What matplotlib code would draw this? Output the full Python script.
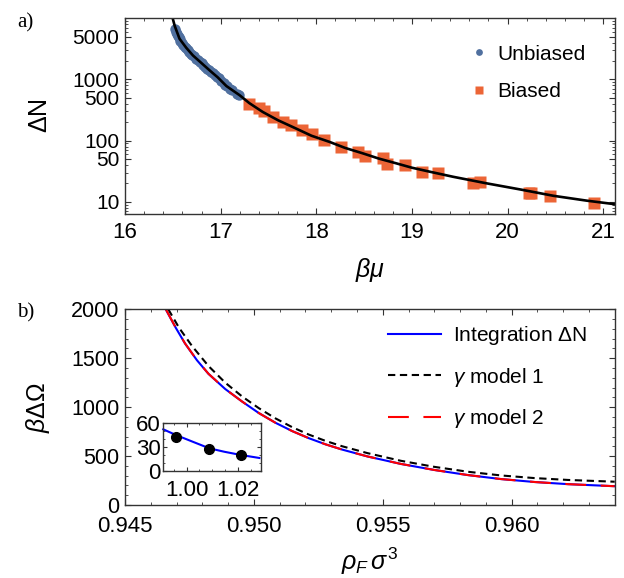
import numpy as np
import matplotlib
matplotlib.use("Agg")
import matplotlib.pyplot as plt
from matplotlib.ticker import FixedLocator, MultipleLocator, LogLocator, NullFormatter

plt.rcParams['font.family'] = ['Liberation Sans', 'DejaVu Sans']
plt.rcParams['mathtext.fontset'] = 'custom'
plt.rcParams['mathtext.rm'] = 'Liberation Sans'
plt.rcParams['mathtext.it'] = 'Liberation Sans:italic'

# panel a: grand-canonical data
unbiased_mu = [16.52, 16.53, 16.54, 16.55, 16.56, 16.57, 16.58, 16.60, 16.61, 16.63,
               16.64, 16.66, 16.67, 16.69, 16.70, 16.72, 16.74, 16.76, 16.78, 16.80,
               16.82, 16.84, 16.86, 16.88, 16.90, 16.92, 16.94, 16.96, 16.98, 17.00,
               17.03, 17.05, 17.07, 17.10, 17.12, 17.17, 17.19]
unbiased_dN = [6600, 6000, 5600, 5200, 4900, 4600, 4300, 3950, 3700, 3450,
               3250, 3000, 2850, 2650, 2550, 2400, 2200, 2050, 1950, 1850,
               1700, 1600, 1500, 1420, 1330, 1260, 1180, 1100, 1050, 960,
               870, 820, 790, 700, 660, 570, 550]
biased_mu = [17.30, 17.40, 17.45, 17.55, 17.65, 17.74, 17.85, 17.95, 18.08, 18.26,
             18.44, 18.51, 18.70, 18.74, 18.93, 19.11, 19.27, 19.64, 19.71, 20.22,
             20.25, 20.44, 20.90]
biased_dN = [393, 347, 300, 240, 198, 178, 150, 128, 102, 79,
             65, 57, 51, 42, 40, 31, 30, 20.5, 21, 14,
             14, 12.4, 9.6]
fit_mu = [16.50, 16.52, 16.57, 16.64, 16.71, 16.80, 16.885, 16.97, 17.06, 17.2,
          17.3, 17.44, 17.6, 17.79, 17.95, 18.14, 18.3, 18.49, 18.65, 18.84,
          19.0, 19.19, 19.43, 19.78, 20.13, 20.48, 20.83, 21.15]
fit_dN = [9800, 7500, 4630, 3300, 2470, 1850, 1406, 1080, 780, 550,
          410, 294, 215, 157, 120, 95, 76, 61.6, 51, 42.3,
          36, 30.9, 25.6, 20, 15.9, 12.5, 10.4, 9.0]

# panel b: free energy vs density
rho = [0.94656, 0.94695, 0.94733, 0.94779, 0.94824, 0.94889, 0.94954, 0.95019, 0.95084,
       0.95149, 0.95213, 0.95278, 0.95343, 0.95441, 0.95570, 0.95700, 0.95830, 0.95959,
       0.96089, 0.96219, 0.96400]
omega_int = [2010, 1820, 1650, 1480, 1340, 1185, 1058, 940, 840,
             755, 683, 620, 566, 496, 420, 358, 306, 265,
             235, 213, 192]
omega_m2 = [2012, 1822, 1651, 1481, 1341, 1185, 1058, 940, 840,
            755, 683, 620, 566, 496, 420, 358, 306, 265,
            235, 213, 192]
rho_m1 = [0.94668, 0.94710, 0.94760, 0.94824, 0.94889, 0.94954, 0.95019, 0.95084, 0.95149,
          0.95213, 0.95278, 0.95343, 0.95441, 0.95570, 0.95700, 0.95830, 0.95959, 0.96089,
          0.96219, 0.96400]
omega_m1 = [2000, 1810, 1625, 1420, 1250, 1110, 990, 885, 795,
            720, 655, 600, 530, 452, 390, 340, 302, 275,
            256, 238]

# inset
inset_rho = [0.991, 0.9959, 1.0024, 1.0088, 1.0146, 1.0211, 1.0282]
inset_omega = [51.7, 44.6, 36.2, 28.0, 23.7, 19.6, 15.9]
pts_rho = [0.9959, 1.0088, 1.0211]
pts_omega = [42.5, 27.5, 20.0]

W, H = 624, 578
fig = plt.figure(figsize=(W / 100, H / 100), dpi=100)

def px_axes(l, t, r, b):
    return fig.add_axes([l / W, 1 - b / H, (r - l) / W, (b - t) / H])

ax1 = px_axes(125, 18.3, 614.7, 214)
ax2 = px_axes(125, 309.3, 614.7, 505)
ax3 = px_axes(163.3, 422.7, 260.7, 470.7)

frame_c = '#333333'
for ax in (ax1, ax2, ax3):
    for s in ax.spines.values():
        s.set_color(frame_c)
        s.set_linewidth(1.0)
    ax.tick_params(which='both', direction='in', top=True, right=True, color=frame_c)
    ax.tick_params(which='major', length=4)
    ax.tick_params(which='minor', length=2)

# ---- panel a
ax1.plot(unbiased_mu, unbiased_dN, 'o', color='#50709f', ms=7.5, mec='none', label='Unbiased')
ax1.plot(biased_mu, biased_dN, 's', color='#ec6536', ms=8, mec='none', label='Biased')
ax1.plot(fit_mu, fit_dN, '-', color='black', lw=1.9)
ax1.set_yscale('log')
ax1.set_xlim(16, 21.12)
ax1.set_ylim(6.3, 10000)
ax1.xaxis.set_major_locator(MultipleLocator(1))
ax1.xaxis.set_minor_locator(MultipleLocator(0.2))
ax1.yaxis.set_major_locator(FixedLocator([10, 50, 100, 500, 1000, 5000]))
ax1.yaxis.set_major_formatter(plt.FixedFormatter(['10', '50', '100', '500', '1000', '5000']))
ax1.yaxis.set_minor_locator(LogLocator(base=10, subs=np.arange(2, 10)))
ax1.yaxis.set_minor_formatter(NullFormatter())
ax1.tick_params(axis='x', labelsize=16, pad=6)
ax1.tick_params(axis='y', labelsize=15, pad=4)
ax1.set_xlabel(r'$\beta\mu$', fontsize=18)
ax1.xaxis.set_label_coords(0.5, -0.215)
ax1.set_ylabel(r'$\mathrm{\Delta N}$', fontsize=18)
ax1.yaxis.set_label_coords(-0.15, 0.5)
ax1.legend(loc='upper left', bbox_to_anchor=(0.705, 0.865), frameon=False, fontsize=15,
           handlelength=0.8, handletextpad=0.5, labelspacing=0.9, borderpad=0,
           borderaxespad=0, markerscale=0.65)

# ---- panel b
ax2.plot(rho, omega_int, '-', color='#0000ff', lw=1.5, label=r'Integration $\mathrm{\Delta N}$')
ax2.plot(rho_m1, omega_m1, '--', color='black', lw=1.5, dashes=(3.5, 2.2), label=r'$\gamma$ model 1')
ax2.plot(rho, omega_m2, '--', color='#ff0000', lw=1.5, dashes=(10, 7), label=r'$\gamma$ model 2')
ax2.set_xlim(0.945, 0.964)
ax2.set_ylim(0, 2000)
ax2.xaxis.set_major_locator(MultipleLocator(0.005))
ax2.xaxis.set_minor_locator(MultipleLocator(0.001))
ax2.yaxis.set_major_locator(MultipleLocator(500))
ax2.yaxis.set_minor_locator(MultipleLocator(100))
ax2.xaxis.set_major_formatter(plt.FormatStrFormatter('%.3f'))
ax2.tick_params(axis='x', labelsize=16, pad=8)
ax2.tick_params(axis='y', labelsize=15.5, pad=4)
ax2.set_xlabel(r'$\rho_F\,\sigma^3$', fontsize=18)
ax2.xaxis.set_label_coords(0.5, -0.21)
ax2.set_ylabel(r'$\beta\mathrm{\Delta\Omega}$', fontsize=18)
ax2.yaxis.set_label_coords(-0.15, 0.5)
ax2.legend(loc='upper left', bbox_to_anchor=(0.538, 0.925), frameon=False, fontsize=15,
           handlelength=2.5, handletextpad=0.6, labelspacing=0.9, borderpad=0,
           borderaxespad=0)

# ---- inset
ax3.plot(inset_rho, inset_omega, '-', color='#0000ff', lw=1.5, clip_on=False)
ax3.plot(pts_rho, pts_omega, 'o', color='black', ms=7, zorder=3)
ax3.set_xlim(0.991, 1.0287)
ax3.set_ylim(0, 60)
ax3.xaxis.set_major_locator(FixedLocator([1.00, 1.02]))
ax3.xaxis.set_major_formatter(plt.FormatStrFormatter('%.2f'))
ax3.xaxis.set_minor_locator(MultipleLocator(0.005))
ax3.yaxis.set_major_locator(MultipleLocator(30))
ax3.yaxis.set_minor_locator(MultipleLocator(10))
ax3.tick_params(which='major', length=3)
ax3.tick_params(which='minor', length=1.5)
ax3.tick_params(axis='x', labelsize=16, pad=7)
ax3.tick_params(axis='y', labelsize=16, pad=2)

fig.text(17 / W, 1 - 23 / H, 'a)', family='Liberation Serif', fontsize=15, va='center')
fig.text(17 / W, 1 - 313 / H, 'b)', family='Liberation Serif', fontsize=15, va='center')

fig.savefig('out.png', dpi=100)
